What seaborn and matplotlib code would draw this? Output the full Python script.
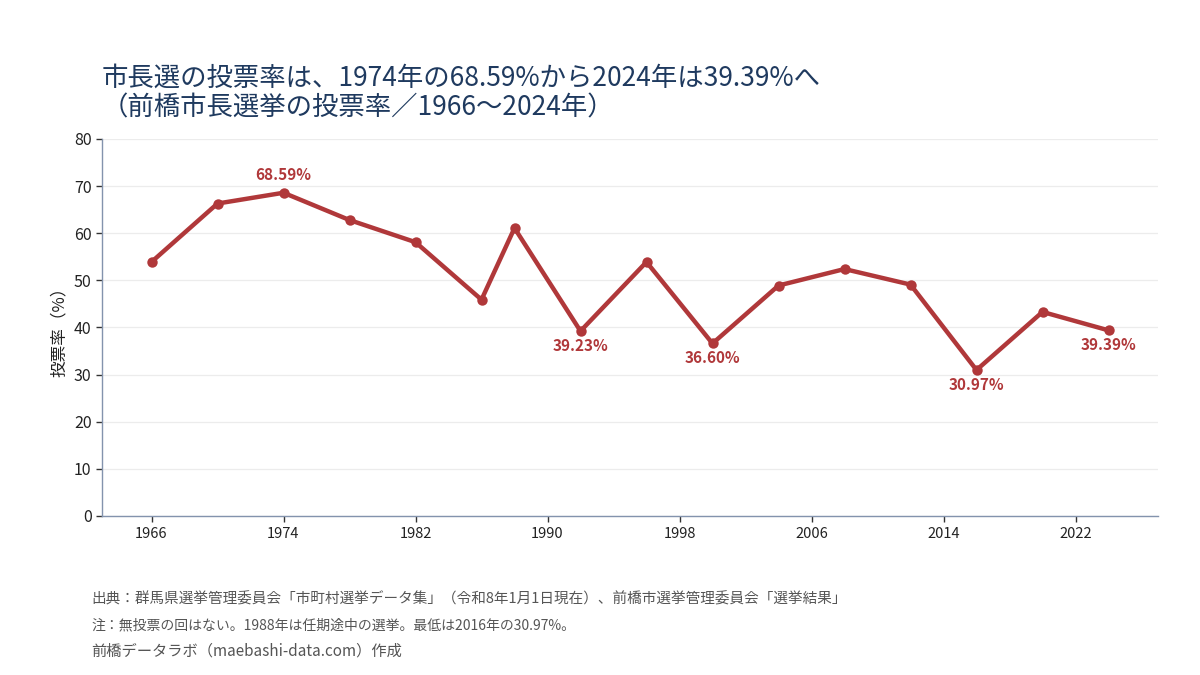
import matplotlib
matplotlib.use("Agg")
import matplotlib.pyplot as plt
import seaborn as sns
import pandas as pd

years = [1966, 1970, 1974, 1978, 1982, 1986, 1988, 1992, 1996, 2000,
         2004, 2008, 2012, 2016, 2020, 2024]
turnout = [53.9, 66.3, 68.59, 62.8, 58.1, 45.9, 61.1, 39.23, 53.9, 36.60,
           48.9, 52.4, 49.1, 30.97, 43.3, 39.39]
label_years = [1974, 1992, 2000, 2016, 2024]
x_ticks = [1966, 1974, 1982, 1990, 1998, 2006, 2014, 2022]

title = "市長選の投票率は、1974年の68.59%から2024年は39.39%へ\n（前橋市長選挙の投票率／1966〜2024年）"
notes = [
    "出典：群馬県選挙管理委員会「市町村選挙データ集」（令和8年1月1日現在）、前橋市選挙管理委員会「選挙結果」",
    "注：無投票の回はない。1988年は任期途中の選挙。最低は2016年の30.97%。",
    "前橋データラボ（maebashi-data.com）作成",
]
note_sizes = [10.5, 10, 11]

df = pd.DataFrame({"year": years, "turnout": turnout})

sns.set_theme(style="white")
plt.rcParams['font.family'] = ['Noto Sans CJK JP', 'DejaVu Sans']

red = "#b0383a"
spine_col = "#8393ad"

fig = plt.figure(figsize=(12, 6.75), dpi=100)
ax = fig.add_axes([0.085, 0.2356, 0.88, 0.5585])

sns.lineplot(data=df, x="year", y="turnout", ax=ax, color=red, linewidth=3.2,
             marker="o", markersize=7.5, markeredgewidth=0)

for yr, v in zip(years, turnout):
    if yr in label_years:
        if yr == 1974:
            ax.annotate(f"{v:.2f}%", (yr, v), xytext=(0, 7), textcoords="offset points",
                        ha="center", va="bottom", color=red, fontsize=11, fontweight="bold")
        else:
            ax.annotate(f"{v:.2f}%", (yr, v), xytext=(0, -5), textcoords="offset points",
                        ha="center", va="top", color=red, fontsize=11, fontweight="bold")

ax.set_xlim(1963, 2027)
ax.set_ylim(0, 80)
ax.set_xticks(x_ticks)
ax.set_yticks(range(0, 81, 10))
ax.set_xlabel("")
ax.set_ylabel("投票率（%）", fontsize=12, color="#222222")
ax.tick_params(axis="both", labelsize=11.5, colors="#222222", length=4, width=1,
               bottom=True, left=True)
ax.tick_params(axis="x", labelsize=10.5, pad=4)
ax.tick_params(axis="both", color="#333333")
ax.yaxis.grid(True, color="#ececec", linewidth=0.9)
ax.xaxis.grid(False)
for s in ["top", "right"]:
    ax.spines[s].set_visible(False)
for s in ["left", "bottom"]:
    ax.spines[s].set_color(spine_col)
    ax.spines[s].set_linewidth(1.0)

fig.text(0.085, 0.82, title, fontsize=19, color="#1f3a5f", ha="left", va="bottom",
         linespacing=1.15)

for i, (line, fs) in enumerate(zip(notes, note_sizes)):
    fig.text(0.076, 0.112 - i * 0.0385, line, fontsize=fs, color="#555555",
             ha="left", va="center")

fig.savefig("out.png", dpi=100)
